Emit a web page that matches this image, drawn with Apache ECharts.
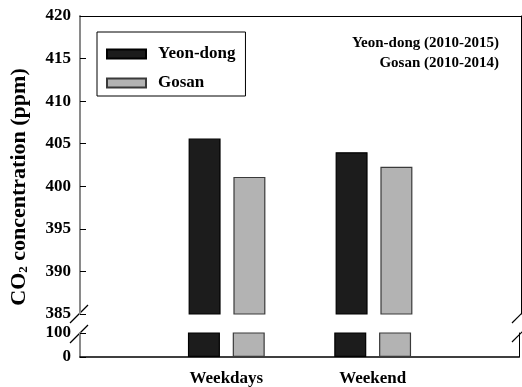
<!DOCTYPE html>
<html>
<head>
<meta charset="utf-8">
<script src="https://cdn.jsdelivr.net/npm/echarts@6/dist/echarts.min.js"></script>
<style>
html,body{margin:0;padding:0;background:#fff;}
#chart{width:522px;height:387px;}
</style>
</head>
<body>
<div id="chart"></div>
<script>
// ---- data ----
var categories = ['', 'Weekdays', 'Weekend', ''];
var seriesNames = ['Yeon-dong', 'Gosan'];
var yeondong = ['-', 405.6, 404.0, '-'];
var gosan = ['-', 401.1, 402.3, '-'];
var upperTicks = {min: 385, max: 420, interval: 5};
var lowerTicks = {min: 0, max: 100, interval: 100};
var notes = ['Yeon-dong (2010-2015)', 'Gosan (2010-2014)'];
var yTitle = 'CO{sub|2} concentration (ppm)';

var FONT = '"Liberation Serif", "Times New Roman", serif';
var chart = echarts.init(document.getElementById('chart'), null, {renderer: 'canvas'});

var colors = {yd: '#1c1c1c', ydBorder: '#000', gs: '#b3b3b3', gsBorder: '#3a3a3a'};

function barSeries(name, data, xi, yi, fill, border) {
  return {
    name: name, type: 'bar', xAxisIndex: xi, yAxisIndex: yi,
    data: data, barWidth: 32, barGap: '40%', clip: true,
    itemStyle: {color: fill, borderColor: border, borderWidth: 1.2},
    emphasis: {disabled: true}, animation: false
  };
}

var leftAxisLine = {show: true, lineStyle: {color: '#8a8a8a', width: 2}};
var tickStyle = {show: true, inside: true, length: 6, lineStyle: {color: '#000', width: 1}};
var tickLabel = {show: true, fontFamily: FONT, fontWeight: 'bold', fontSize: 17, color: '#000', margin: 9};

var option = {
  animation: false,
  grid: [
    {left: 80, right: 1, top: 16, height: 298},
    {left: 80, right: 1, top: 333, height: 25}
  ],
  legend: {
    data: seriesNames,
    orient: 'vertical', left: 97, top: 32,
    itemWidth: 39, itemHeight: 9, itemGap: 9,
    padding: [12, 10, 3, 9],
    borderColor: '#000', borderWidth: 1,
    icon: 'rect',
    selectedMode: false,
    textStyle: {fontFamily: FONT, fontWeight: 'bold', fontSize: 17, color: '#000', lineHeight: 20, padding: [0, 0, 0, 7]}
  },
  xAxis: [
    {gridIndex: 0, type: 'category', data: categories, boundaryGap: false, position: 'top',
     axisLine: {show: true, lineStyle: {color: '#000', width: 1}}, axisTick: {show: false}, axisLabel: {show: false}, splitLine: {show: false}},
    {gridIndex: 1, type: 'category', data: categories, boundaryGap: false, position: 'bottom',
     axisLine: {show: true, lineStyle: {color: '#000', width: 1.5}}, axisTick: {show: false},
     axisLabel: {show: true, fontFamily: FONT, fontWeight: 'bold', fontSize: 17, color: '#000', margin: 13}, splitLine: {show: false}}
  ],
  yAxis: [
    {gridIndex: 0, type: 'value', position: 'left', min: upperTicks.min, max: upperTicks.max, interval: upperTicks.interval,
     axisLine: leftAxisLine, axisTick: tickStyle, axisLabel: tickLabel, splitLine: {show: false}},
    {gridIndex: 0, type: 'value', position: 'right', min: upperTicks.min, max: upperTicks.max, interval: upperTicks.interval,
     axisLine: {show: true, lineStyle: {color: '#000', width: 1}}, axisTick: {show: false}, axisLabel: {show: false}, splitLine: {show: false}},
    {gridIndex: 1, type: 'value', position: 'left', min: lowerTicks.min, max: lowerTicks.max, interval: lowerTicks.interval,
     axisLine: leftAxisLine, axisTick: tickStyle, axisLabel: tickLabel, splitLine: {show: false}},
    {gridIndex: 1, type: 'value', position: 'right', min: lowerTicks.min, max: lowerTicks.max, interval: lowerTicks.interval,
     axisLine: {show: true, lineStyle: {color: '#000', width: 1}}, axisTick: {show: false}, axisLabel: {show: false}, splitLine: {show: false}}
  ],
  series: [
    barSeries(seriesNames[0], yeondong, 0, 0, colors.yd, colors.ydBorder),
    barSeries(seriesNames[1], gosan, 0, 0, colors.gs, colors.gsBorder),
    barSeries(seriesNames[0], yeondong, 1, 2, colors.yd, colors.ydBorder),
    barSeries(seriesNames[1], gosan, 1, 2, colors.gs, colors.gsBorder)
  ],
  graphic: [
    {type: 'line', shape: {x1: 70, y1: 323, x2: 88, y2: 305}, style: {stroke: '#000', lineWidth: 1.2}},
    {type: 'line', shape: {x1: 70, y1: 343, x2: 88, y2: 325}, style: {stroke: '#000', lineWidth: 1.2}},
    {type: 'line', shape: {x1: 512, y1: 323, x2: 530, y2: 305}, style: {stroke: '#000', lineWidth: 1.2}},
    {type: 'line', shape: {x1: 512, y1: 342, x2: 530, y2: 324}, style: {stroke: '#000', lineWidth: 1.2}},
    {type: 'text', x: 499, y: 33, style: {text: notes.join('\n'), align: 'right', verticalAlign: 'top', lineHeight: 20,
      font: 'bold 15px ' + FONT, fill: '#000'}},
    {type: 'text', x: 19, y: 187, rotation: Math.PI / 2,
     style: {text: yTitle, align: 'center', verticalAlign: 'middle', fill: '#000',
       fontFamily: FONT, fontWeight: 'bold', fontSize: 22,
       rich: {sub: {fontSize: 13, fontWeight: 'bold', fontFamily: FONT, verticalAlign: 'bottom', padding: [9, 0, 0, 0]}}}}
  ]
};
chart.setOption(option);
</script>
</body>
</html>
